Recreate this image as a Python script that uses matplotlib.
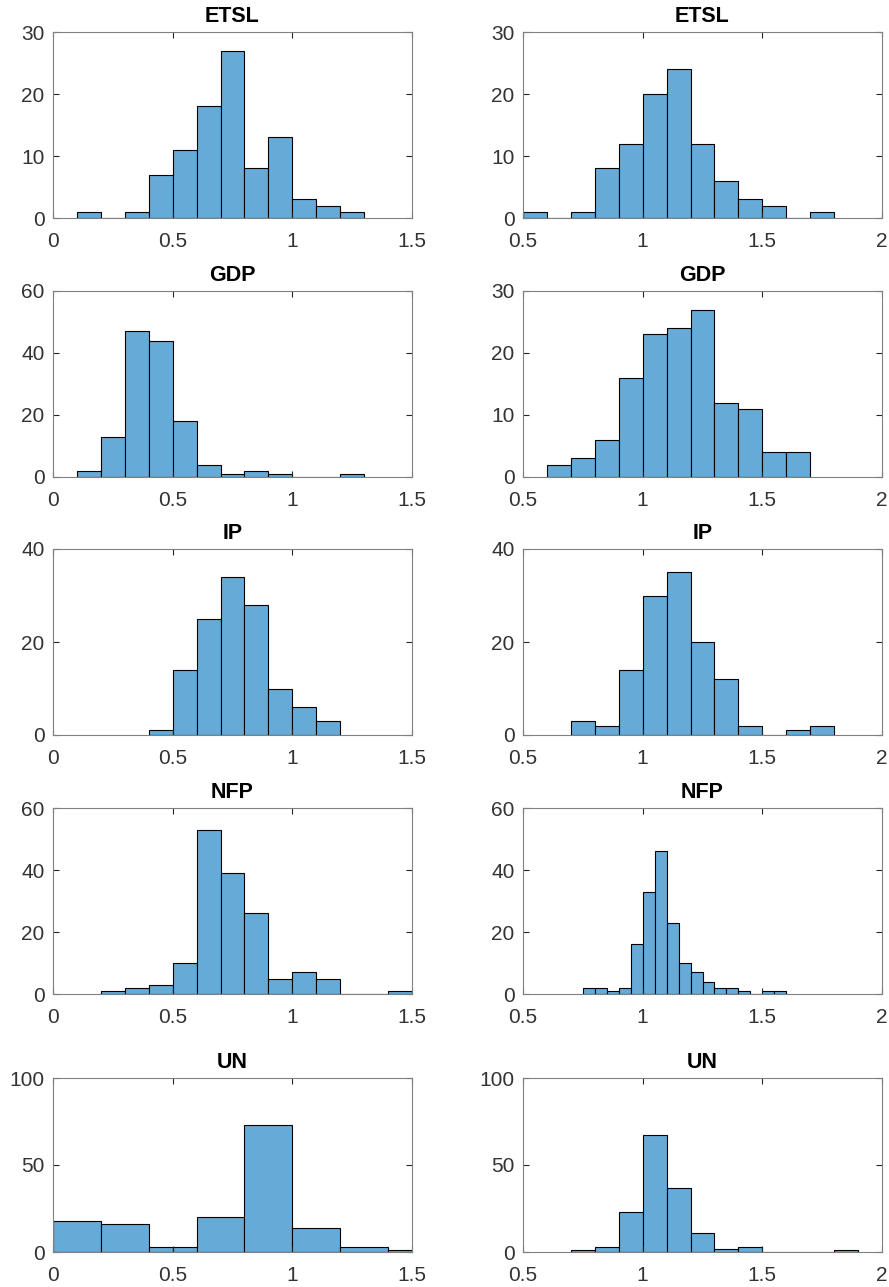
import numpy as np
import matplotlib
matplotlib.use("Agg")
import matplotlib.pyplot as plt
from matplotlib.ticker import FormatStrFormatter

plt.rcParams["font.family"] = ["Liberation Sans", "DejaVu Sans"]

titles = ["ETSL", "GDP", "IP", "NFP", "UN"]

# left column: bin edges and counts
left_edges = [
    np.round(np.arange(0.1, 1.31, 0.1), 2),
    np.round(np.arange(0.1, 1.31, 0.1), 2),
    np.round(np.arange(0.4, 1.21, 0.1), 2),
    np.round(np.arange(0.2, 1.51, 0.1), 2),
    [0, 0.2, 0.4, 0.5, 0.6, 0.8, 1.0, 1.2, 1.4, 1.6],
]
left_counts = [
    [1, 0, 1, 7, 11, 18, 27, 8, 13, 3, 2, 1],
    [2, 13, 47, 44, 18, 4, 1, 2, 1, 0, 0, 1],
    [1, 14, 25, 34, 28, 10, 6, 3],
    [1, 2, 3, 10, 53, 39, 26, 5, 7, 5, 0, 0, 1],
    [18, 16, 3, 3, 20, 73, 14, 3, 1],
]

# right column
right_edges = [
    np.round(np.arange(0.5, 1.81, 0.1), 2),
    np.round(np.arange(0.6, 1.71, 0.1), 2),
    np.round(np.arange(0.7, 1.81, 0.1), 2),
    np.round(np.arange(0.75, 1.601, 0.05), 3),
    np.round(np.arange(0.7, 1.91, 0.1), 2),
]
right_counts = [
    [1, 0, 1, 8, 12, 20, 24, 12, 6, 3, 2, 0, 1],
    [2, 3, 6, 16, 23, 24, 27, 12, 11, 4, 4],
    [3, 2, 14, 30, 35, 20, 12, 2, 0, 1, 2],
    [2, 2, 1, 2, 16, 33, 46, 23, 10, 7, 4, 2, 2, 1, 0, 1, 1],
    [1, 3, 23, 67, 37, 11, 2, 3, 0, 0, 0, 1],
]

left_ymax = [30, 60, 40, 60, 100]
right_ymax = [30, 30, 40, 60, 100]
left_yticks = [[0, 10, 20, 30], [0, 20, 40, 60], [0, 20, 40], [0, 20, 40, 60], [0, 50, 100]]
right_yticks = [[0, 10, 20, 30], [0, 10, 20, 30], [0, 20, 40], [0, 20, 40, 60], [0, 50, 100]]

W, H = 889, 1287
fig = plt.figure(figsize=(W / 100, H / 100), dpi=100)

# axes boxes in pixels (top, bottom)
rows = [(32, 218), (291, 477), (549, 735), (808, 994), (1078, 1252)]
cols = [(53, 412), (523, 882)]

face = "#66aad7"
axcol = "#262626"


def draw(ax, edges, counts, xlim, xticks, ymax, yticks, title):
    edges = np.asarray(edges, dtype=float)
    mids = (edges[:-1] + edges[1:]) / 2
    ax.hist(mids, bins=edges, weights=counts, color=face, edgecolor="black", linewidth=0.8)
    ax.set_xlim(*xlim)
    ax.set_ylim(0, ymax)
    ax.set_xticks(xticks)
    ax.set_yticks(yticks)
    ax.xaxis.set_major_formatter(FormatStrFormatter("%g"))
    ax.tick_params(direction="in", length=4, width=0.8, colors=axcol, labelsize=15,
                   top=True, right=True, labelcolor="#333333")
    ax.tick_params(axis="x", pad=10)
    ax.tick_params(axis="y", pad=6)
    for s in ax.spines.values():
        s.set_color("#808080")
        s.set_linewidth(0.8)
    ax.set_title(title, fontsize=15.5, fontweight="bold", pad=7)


for i in range(5):
    top, bot = rows[i]
    for j in range(2):
        l, r = cols[j]
        ax = fig.add_axes([l / W, 1 - bot / H, (r - l) / W, (bot - top) / H])
        if j == 0:
            draw(ax, left_edges[i], left_counts[i], (0, 1.5), [0, 0.5, 1, 1.5],
                 left_ymax[i], left_yticks[i], titles[i])
        else:
            draw(ax, right_edges[i], right_counts[i], (0.5, 2), [0.5, 1, 1.5, 2],
                 right_ymax[i], right_yticks[i], titles[i])

fig.savefig("out.png", dpi=100)
